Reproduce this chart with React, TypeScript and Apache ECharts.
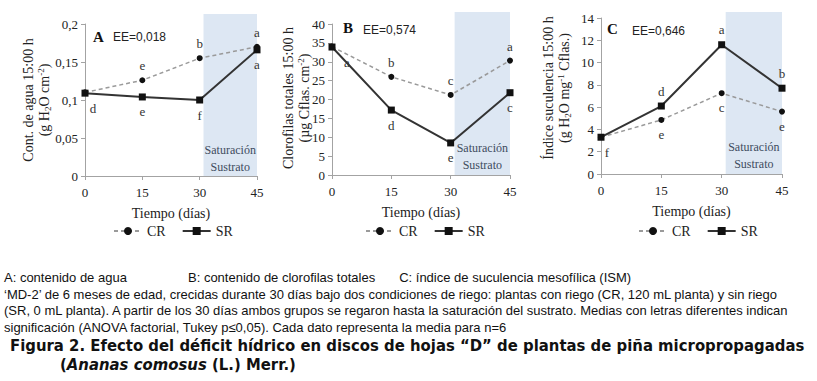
import React, { useEffect, useRef } from 'react';
import * as echarts from 'echarts';

// ---------- data ----------
const days = [0, 15, 30, 45];

const aguaCR = [0.11, 0.126, 0.155, 0.17];
const aguaSR = [0.109, 0.104, 0.1, 0.166];
const aguaCRLetters = ['', 'e', 'b', 'a'];
const aguaSRLetters = ['d', 'e', 'f', 'a'];

const clorCR = [34, 26, 21.2, 30.3];
const clorSR = [33.9, 17.2, 8.5, 21.8];
const clorCRLetters = ['', 'b', 'c', 'a'];
const clorSRLetters = ['a', 'd', 'e', 'c'];

const sucCR = [3.3, 4.85, 7.25, 5.6];
const sucSR = [3.3, 6.1, 11.6, 7.7];
const sucCRLetters = ['', 'e', 'c', 'e'];
const sucSRLetters = ['f', 'd', 'a', 'b'];

const eeValues = ['EE=0,018', 'EE=0,574', 'EE=0,646'];
const panelLetters = ['A', 'B', 'C'];
const yTitles = [
  'Cont. de agua 15:00 h\n(g H{sub|2}O cm{sup|-2})',
  'Clorofilas totales 15:00 h\n(µg Cflas. cm{sup|-2})',
  'Índice suculencia 15:00 h\n(g H{sub|2}O mg{sup|-1} Cflas.)',
];
const shadeRange = [31, 45];
const seriesNames = ['CR', 'SR'];

const captionLine1 = ['A: contenido de agua', 'B: contenido de clorofilas totales', 'C: índice de suculencia mesofílica (ISM)'];
const captionBody = [
  '‘MD-2’ de 6 meses de edad, crecidas durante 30 días bajo dos condiciones de riego: plantas con riego (CR, 120 mL planta) y sin riego',
  '(SR, 0 mL planta). A partir de los 30 días ambos grupos se regaron hasta la saturación del sustrato. Medias con letras diferentes indican',
  'significación (ANOVA factorial, Tukey p≤0,05). Cada dato representa la media para n=6',
];
const headingLine1 = 'Figura 2. Efecto del déficit hídrico en discos de hojas “D” de plantas de piña micropropagadas';

// ---------- styles / layout ----------
const SERIF = '"Liberation Serif", "Times New Roman", serif';
const SANS = '"Liberation Sans", Arial, sans-serif';
const BODY = '"Liberation Sans", Arial, sans-serif';
const HEAD = '"DejaVu Sans", "Liberation Sans", Arial, sans-serif';
const SHADE = '#dde7f3';
const AXIS = '#a3a3a3';

const panels = [
  {
    grid: { left: 85, top: 24, width: 172, height: 152 },
    yMax: 0.2, yInt: 0.05,
    titleXY: [36, 100],
    cr: aguaCR, sr: aguaSR, crL: aguaCRLetters, srL: aguaSRLetters,
    crPos: 'top', srPos: 'bottom', firstDx: 8,
    legendLeft: 108, shadeExtra: 10, shadeDy: 0,
    letterXY: [93, 37], eeXY: [113, 37],
  },
  {
    grid: { left: 332, top: 24, width: 178, height: 151 },
    yMax: 40, yInt: 5,
    titleXY: [296, 98],
    cr: clorCR, sr: clorSR, crL: clorCRLetters, srL: clorSRLetters,
    crPos: 'top', srPos: 'bottom', firstDx: 15,
    legendLeft: 360, shadeExtra: 12, shadeDy: -1,
    letterXY: [343, 28], eeXY: [363, 30],
  },
  {
    grid: { left: 601, top: 18, width: 181, height: 156 },
    yMax: 14, yInt: 2,
    titleXY: [556, 88],
    cr: sucCR, sr: sucSR, crL: sucCRLetters, srL: sucSRLetters,
    crPos: 'bottom', srPos: 'top', firstDx: 6,
    legendLeft: 633, shadeExtra: 6, shadeDy: -1,
    letterXY: [607, 29], eeXY: [632, 31],
  },
];

function pointData(vals: number[], letters: string[], pos: string, firstDx: number) {
  return vals.map((v, i) => ({
    value: [days[i], v],
    label: {
      show: letters[i] !== '',
      formatter: letters[i],
      position: i === 0 ? 'bottom' : pos,
      offset: i === 0 ? [firstDx, 0] : [0, 0],
    },
  }));
}

export default function App() {
  const ref = useRef<HTMLDivElement>(null);
  useEffect(() => {
    document.body.style.margin = '0';
    const chart = echarts.init(ref.current!, null, { renderer: 'svg' });

    const labelStyle = { fontFamily: SERIF, fontSize: 13, color: '#333' };

    const series: any[] = [];
    panels.forEach((p, i) => {
      series.push({
        name: seriesNames[0], type: 'line', xAxisIndex: i, yAxisIndex: i,
        data: pointData(p.cr, p.crL, p.crPos, p.firstDx),
        symbol: 'circle', symbolSize: 6,
        itemStyle: { color: '#111' },
        lineStyle: { color: '#9a9a9a', width: 1.5, type: [4, 3] },
        label: { ...labelStyle },
        z: 3,
      });
      series.push({
        name: seriesNames[1], type: 'line', xAxisIndex: i, yAxisIndex: i,
        data: pointData(p.sr, p.srL, p.srPos, p.firstDx),
        symbol: 'rect', symbolSize: 7,
        itemStyle: { color: '#111' },
        lineStyle: { color: '#333', width: 2 },
        label: { ...labelStyle },
        z: 4,
        markArea: {
          silent: true,
          itemStyle: { color: SHADE },
          label: {
            show: true, position: 'insideBottom', distance: 1, offset: [0, p.shadeDy],
            formatter: 'Saturación\nSustrato',
            fontFamily: SERIF, fontSize: 12, lineHeight: 17, color: '#3d4c5e',
          },
          data: [[{ xAxis: shadeRange[0] }, { xAxis: shadeRange[1] }]],
        },
      });
    });

    const option: any = {
      animation: false,
      backgroundColor: '#fff',
      grid: panels.map((p) => ({ ...p.grid, containLabel: false })),
      xAxis: panels.map((p, i) => ({
        type: 'value', gridIndex: i, min: 0, max: 45, interval: 15,
        name: 'Tiempo (días)', nameLocation: 'middle', nameGap: 30,
        nameTextStyle: { fontFamily: SERIF, fontSize: 14, fontWeight: 'normal', color: '#222' },
        axisLine: { lineStyle: { color: AXIS } },
        axisTick: { show: true, length: 4, lineStyle: { color: AXIS } },
        axisLabel: { fontFamily: SERIF, fontSize: 13, color: '#222', margin: 10 },
        splitLine: { show: false },
      })),
      yAxis: panels.map((p, i) => ({
        type: 'value', gridIndex: i, min: 0, max: p.yMax, interval: p.yInt,
        axisLine: { show: true, lineStyle: { color: AXIS } },
        axisTick: { show: true, length: 4, lineStyle: { color: AXIS } },
        axisLabel: {
          fontFamily: SERIF, fontSize: 13, color: '#222', margin: 7,
          formatter: (v: number) => String(+v.toFixed(4)).replace('.', ','),
        },
        splitLine: { show: false },
      })),
      legend: panels.map((p) => ({
        data: seriesNames, left: p.legendLeft, top: 219,
        itemWidth: 28, itemHeight: 10, itemGap: 16,
        textStyle: { fontFamily: SERIF, fontSize: 14, color: '#222' },
        selectedMode: false,
      })),
      series,
    };
    chart.setOption(option);

    // extra strip of shading above the plot area, positioned from the axes
    const rects = panels.map((p, i) => {
      const a = chart.convertToPixel({ gridIndex: i } as any, [shadeRange[0], p.yMax]) as number[];
      const b = chart.convertToPixel({ gridIndex: i } as any, [shadeRange[1], p.yMax]) as number[];
      return {
        type: 'rect', silent: true, z: -10,
        shape: { x: a[0], y: a[1] - p.shadeExtra, width: b[0] - a[0], height: p.shadeExtra },
        style: { fill: SHADE },
      };
    });

    const ctx = document.createElement('canvas').getContext('2d')!;
    const measure = (text: string, font: string) => {
      ctx.font = font;
      return ctx.measureText(text).width;
    };
    const bodyFont = `13px ${BODY}`;
    const bodyScale = Math.min(1, 808 / measure(captionBody[1], bodyFont));
    const headFont = `bold 15px ${HEAD}`;
    const headScale = Math.max(0.9, Math.min(1.15, 795 / measure(headingLine1, headFont)));

    const texts: any[] = [];
    panels.forEach((p, i) => {
      texts.push({
        type: 'text', x: p.titleXY[0], y: p.titleXY[1], rotation: Math.PI / 2,
        style: {
          text: yTitles[i], font: `14px ${SERIF}`, fill: '#222', lineHeight: 16,
          align: 'center', verticalAlign: 'middle',
          rich: {
            sub: { fontFamily: SERIF, fontSize: 9, verticalAlign: 'bottom', lineHeight: 16, fill: '#222' },
            sup: { fontFamily: SERIF, fontSize: 9, verticalAlign: 'top', lineHeight: 16, fill: '#222' },
          },
        },
      });
      texts.push({
        type: 'text', x: p.letterXY[0], y: p.letterXY[1],
        style: { text: panelLetters[i], font: `bold 15px ${SERIF}`, fill: '#111', verticalAlign: 'middle' },
      });
      texts.push({
        type: 'text', x: p.eeXY[0], y: p.eeXY[1],
        style: { text: eeValues[i], font: `12px ${SANS}`, fill: '#222', verticalAlign: 'middle' },
      });
    });
    const bX = 188;
    const bEnd = bX + measure(captionLine1[1], bodyFont) * bodyScale;
    const line1X = [4, bX, Math.max(345, bEnd + 24)];
    captionLine1.forEach((t, i) => {
      texts.push({ type: 'text', x: line1X[i], y: 277, scaleX: bodyScale, style: { text: t, font: bodyFont, fill: '#111', verticalAlign: 'middle' } });
    });
    captionBody.forEach((t, i) => {
      texts.push({ type: 'text', x: 4, y: 294 + i * 16.5, scaleX: bodyScale, style: { text: t, font: bodyFont, fill: '#111', verticalAlign: 'middle' } });
    });
    texts.push({ type: 'text', x: 10, y: 346, scaleX: headScale, style: { text: headingLine1, font: headFont, fill: '#111', verticalAlign: 'middle' } });
    texts.push({
      type: 'text', x: 60, y: 365, scaleX: headScale,
      style: {
        text: '({i|Ananas comosus} (L.) Merr.)',
        font: headFont, fill: '#111', verticalAlign: 'middle',
        rich: { i: { fontStyle: 'italic', fontWeight: 'bold', fontFamily: HEAD, fontSize: 15, fill: '#111' } },
      },
    });

    chart.setOption({ graphic: [...rects, ...texts] });
    return () => chart.dispose();
  }, []);
  return <div ref={ref} style={{ width: 817, height: 381 }} />;
}
